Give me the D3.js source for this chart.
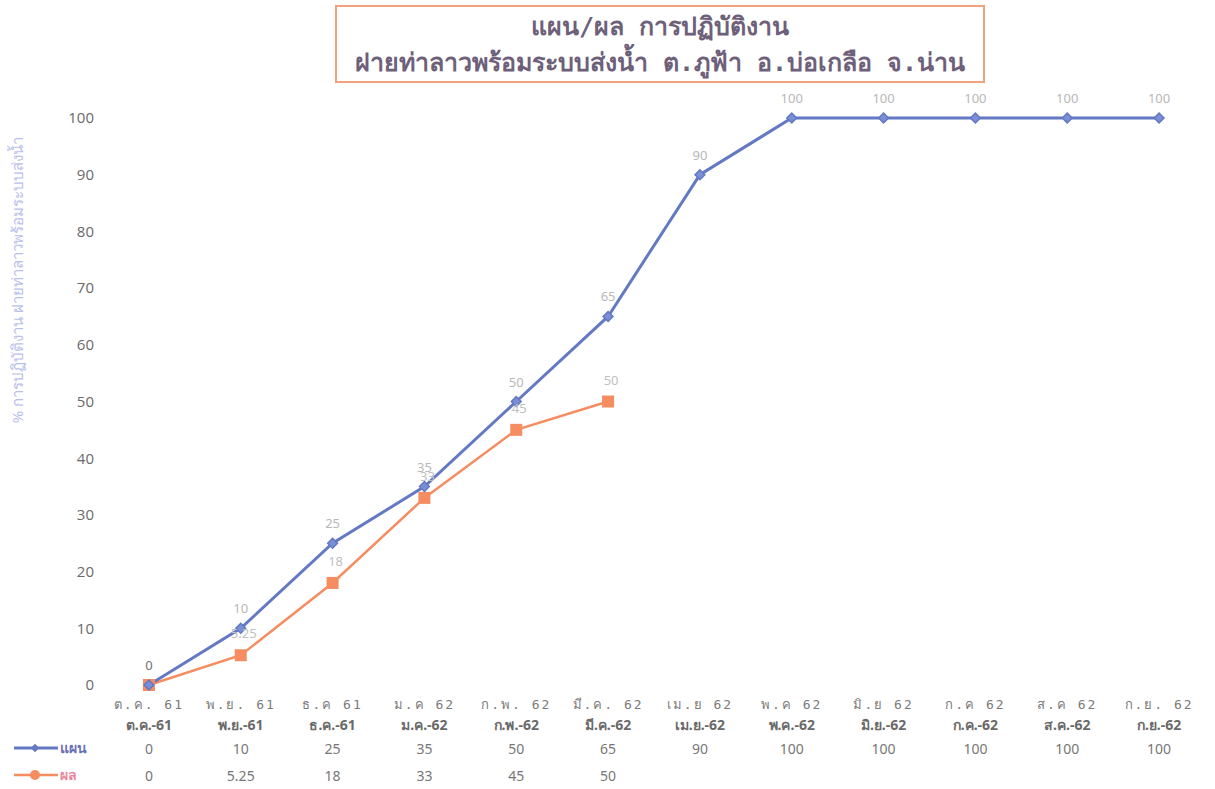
<!DOCTYPE html>
<html><head><meta charset="utf-8">
<script src="https://cdn.jsdelivr.net/npm/d3@7/dist/d3.min.js"></script>
<style>
body{margin:0;background:#fff;}
svg{display:block;font-family:"Noto Sans","DejaVu Sans",sans-serif;}
</style></head>
<body><svg id="c" width="1215" height="789"></svg>
<script>
const categories = ["ต.ค.-61","พ.ย.-61","ธ.ค.-61","ม.ค.-62","ก.พ.-62","มี.ค.-62","เม.ย.-62","พ.ค.-62","มิ.ย.-62","ก.ค.-62","ส.ค.-62","ก.ย.-62"];
const categoriesTop = ["ต.ค. 61","พ.ย. 61","ธ.ค 61","ม.ค 62","ก.พ. 62","มี.ค. 62","เม.ย 62","พ.ค 62","มิ.ย 62","ก.ค 62","ส.ค 62","ก.ย. 62"];
const planValues = [0,10,25,35,50,65,90,100,100,100,100,100];
const resultValues = [0,5.25,18,33,45,50];
const resultLabels = ["0","5.25","18","33","45","50"];
const yTicks = [0,10,20,30,40,50,60,70,80,90,100];
const seriesNames = ["แผน","ผล"];
const titleLines = ["แผน/ผล การปฏิบัติงาน","ฝายท่าลาวพร้อมระบบส่งน้ำ  ต.ภูฟ้า อ.บ่อเกลือ จ.น่าน"];
const yTitle = "% การปฏิบัติงาน ฝายท่าลาวพร้อมระบบส่งน้ำ";

const planColor = "#6479c4", resColor = "#f58d60";
const svg = d3.select("#c");
const x = d3.scaleBand().domain(categories).range([103,1205]).padding(0);
const cx = d => x(d) + x.bandwidth()/2;
const y = d3.scaleLinear().domain([0,100]).range([685,118]);

// title box
svg.append("rect").attr("x",336).attr("y",6).attr("width",648).attr("height",76)
  .attr("fill","#fff").attr("stroke","#f2a17e").attr("stroke-width",2);
svg.selectAll(".tl").data(titleLines).join("text")
  .attr("x",660).attr("y",(d,i)=>35+i*36).attr("text-anchor","middle")
  .attr("font-family","'DejaVu Sans Mono',monospace").attr("font-size",25).attr("font-weight","bold")
  .attr("fill","#6e5f7a").text(d=>d);

// y axis
const ya = svg.append("g").attr("transform","translate(98,0)")
  .call(d3.axisLeft(y).tickValues(yTicks).tickSize(0).tickPadding(4));
ya.select(".domain").remove();
ya.selectAll("text").attr("font-size",15).attr("fill","#6a6a6a").attr("font-family","'Open Sans',sans-serif");

svg.append("text").attr("transform","translate(23,280) rotate(-90)").attr("text-anchor","middle")
  .attr("font-size",15).attr("fill","#b9c1ea").text(yTitle);

// lines
const lineGen = d3.line().x((d,i)=>cx(categories[i])).y(d=>y(d));
svg.append("path").datum(resultValues).attr("d",lineGen).attr("fill","none")
  .attr("stroke",resColor).attr("stroke-width",2.5);
svg.append("path").datum(planValues).attr("d",lineGen).attr("fill","none")
  .attr("stroke",planColor).attr("stroke-width",3);

svg.selectAll(".rm").data(resultValues).join("rect")
  .attr("x",(d,i)=>cx(categories[i])-6).attr("y",d=>y(d)-6).attr("width",12).attr("height",12)
  .attr("fill",resColor);
svg.selectAll(".pm").data(planValues).join("path")
  .attr("d",d3.symbol(d3.symbolSquare,48))
  .attr("transform",(d,i)=>`translate(${cx(categories[i])},${y(d)}) rotate(45)`)
  .attr("fill","#7a8fd6").attr("stroke",planColor).attr("stroke-width",1.5);

// data labels
svg.selectAll(".pl").data(planValues).join("text")
  .attr("x",(d,i)=>cx(categories[i])).attr("y",d=>y(d)-15).attr("text-anchor","middle")
  .attr("font-size",13).attr("fill",(d,i)=>i===0?"#707070":"#b8b8b8").text(d=>d);
svg.selectAll(".rl").data(resultValues.slice(1)).join("text")
  .attr("x",(d,i)=>cx(categories[i+1])+3).attr("y",d=>y(d)-17).attr("text-anchor","middle")
  .attr("font-size",13).attr("fill","#c0c0c0").text((d,i)=>resultLabels[i+1]);

// x labels
svg.selectAll(".xt").data(categoriesTop).join("text")
  .attr("x",(d,i)=>cx(categories[i])).attr("y",709).attr("text-anchor","middle")
  .attr("font-family","'DejaVu Sans Mono',monospace").attr("font-size",13).attr("letter-spacing",2)
  .attr("fill","#7a7a7a").text(d=>d);
svg.selectAll(".xb").data(categories).join("text")
  .attr("x",cx).attr("y",730).attr("text-anchor","middle")
  .attr("font-size",14).attr("font-weight","bold").attr("fill","#6a6a6a").text(d=>d);

// table rows
svg.selectAll(".tp").data(planValues).join("text")
  .attr("x",(d,i)=>cx(categories[i])).attr("y",754).attr("text-anchor","middle")
  .attr("font-size",14).attr("fill","#777").text(d=>d);
svg.selectAll(".tr").data(resultLabels).join("text")
  .attr("x",(d,i)=>cx(categories[i])).attr("y",781).attr("text-anchor","middle")
  .attr("font-size",14).attr("fill","#777").text(d=>d);

// legend keys
const lg = [{c:planColor, y:748, name:seriesNames[0], tc:"#6a70b5"},{c:resColor, y:775, name:seriesNames[1], tc:"#e9889a"}];
lg.forEach((l,k)=>{
  svg.append("line").attr("x1",14).attr("x2",58).attr("y1",l.y).attr("y2",l.y).attr("stroke",l.c).attr("stroke-width",k?2.5:3);
  if(k===0) svg.append("path").attr("d",d3.symbol(d3.symbolSquare,36)).attr("transform",`translate(35,${l.y}) rotate(45)`).attr("fill",l.c);
  else svg.append("circle").attr("cx",35).attr("cy",l.y).attr("r",5).attr("fill",l.c);
  svg.append("text").attr("x",60).attr("y",l.y+5).attr("font-size",14).attr("font-weight","bold").attr("fill",l.tc).text(l.name);
});
</script></body></html>
